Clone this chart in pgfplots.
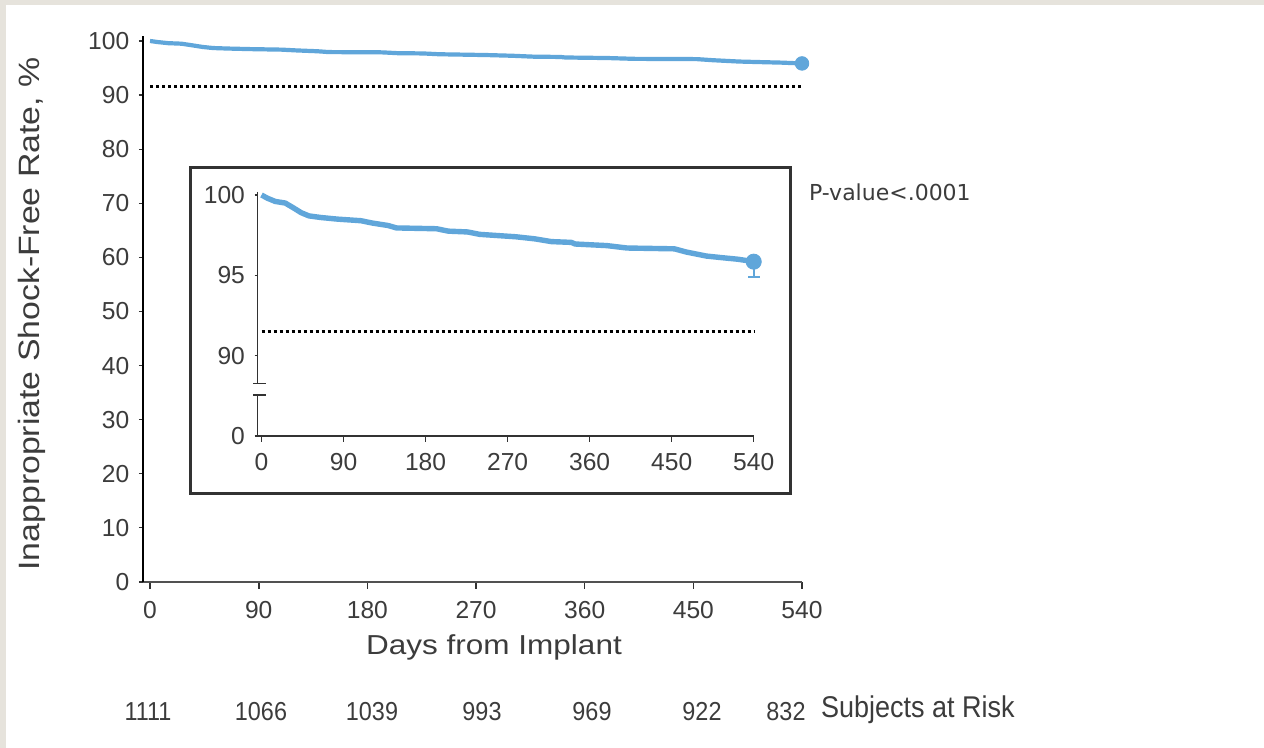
\documentclass[border=0pt]{standalone}
\usepackage{pgfplots}
\pgfplotsset{compat=1.18}
\usepackage{pgfplotstable}
\usepackage{fontspec}
\setmainfont[FakeStretch=1.15]{Liberation Sans}
\newfontfamily\tickfont{Liberation Sans}
\newfontfamily\riskfont[FakeStretch=0.9]{Liberation Sans}
\newfontfamily\pfont{DejaVu Sans}
\definecolor{curve}{RGB}{96,166,218}
\definecolor{beige}{RGB}{230,227,220}
\definecolor{txt}{RGB}{60,60,60}
\definecolor{axc}{RGB}{50,50,50}

\pgfplotstableread{
day val
0 100
6.5 99.8
15 99.6
26 99.5
35 99.2
43.5 98.9
52 98.7
65 98.6
83 98.5
109 98.4
122 98.25
139 98.1
148 97.95
192 97.9
205 97.75
226 97.7
239.5 97.55
279 97.4
300 97.27
318 97.1
340 97.05
344 96.95
379 96.85
401 96.7
453 96.65
466 96.45
488 96.2
505 96.1
523 96.0
540 95.85
}\km

\begin{document}
\begin{tikzpicture}[x=0.5pt,y=0.5pt]
\useasboundingbox (0,0) rectangle (1264,748);
\fill[beige] (0,0) rectangle (1264,748);
\fill[white] (6,0) rectangle (1264,743);

% main axis
\begin{axis}[
  at={(71.4pt,83pt)}, anchor=south west,
  scale only axis, width=329.6pt, height=273.2pt,
  xmin=-6, xmax=540, ymin=0, ymax=101,
  axis x line*=bottom, axis y line*=left,
  x axis line style={-, line width=1.4pt, color=axc!85},
  y axis line style={-, line width=0.8pt, color=black},
  xtick={0,90,180,270,360,450,540},
  ytick={0,10,20,30,40,50,60,70,80,90,100},
  tick align=outside,
  xtick style={/pgfplots/major tick length=3.5pt, line width=0.8pt, color=axc},
  ytick style={/pgfplots/major tick length=2pt, line width=0.6pt, color=axc},
  /pgf/number format/assume math mode=true,
  ticklabel style={font=\tickfont\fontsize{12.3}{14}\selectfont, text=txt},
  xticklabel style={yshift=-2pt},
  yticklabel style={xshift=1pt},
  clip=false,
]
\addplot[black, line width=1.5pt, dash pattern=on 1.5pt off 1.5pt] coordinates {(0,91.5) (540,91.5)};
\addplot[curve, line width=2.1pt, line join=round] table[x=day,y=val] {\km};
\addplot[curve, only marks, mark=*, mark size=3.4pt] coordinates {(540,95.85)};
\end{axis}

% inset box
\draw[line width=1.5pt, color=axc] (190,254) rectangle (790,580);

% inset axis
\begin{axis}[
  at={(128.75pt,156pt)}, anchor=south west,
  scale only axis, width=248.1pt, height=122.1pt,
  xmin=-4.4, xmax=540, ymin=85, ymax=100.2,
  axis x line*=bottom, axis y line*=left,
  x axis line style={-, line width=0.8pt, color=axc},
  y axis line style={draw=none},
  xtick={0,90,180,270,360,450,540},
  ytick={85,90,95,100}, yticklabels={0,90,95,100},
  tick align=outside,
  xtick style={/pgfplots/major tick length=3pt, line width=0.6pt, color=axc},
  ytick style={/pgfplots/major tick length=1.5pt, line width=0.6pt, color=axc},
  /pgf/number format/assume math mode=true,
  ticklabel style={font=\tickfont\fontsize{12.3}{14}\selectfont, text=txt},
  xticklabel style={yshift=-1pt},
  yticklabel style={xshift=1.5pt},
  clip=false,
]
\draw[line width=0.6pt, color=axc] (axis cs:-4.4,100.2) -- (axis cs:-4.4,88.25);
\draw[line width=0.6pt, color=axc] (axis cs:-4.4,87.55) -- (axis cs:-4.4,85);
\draw[line width=0.6pt, color=axc] (axis cs:-8.8,88.25) -- (axis cs:4.4,88.25);
\draw[line width=0.6pt, color=axc] (axis cs:-8.8,87.55) -- (axis cs:4.4,87.55);
\addplot[black, line width=1.5pt, dash pattern=on 1.5pt off 1.5pt] coordinates {(0,91.5) (540,91.5)};
\addplot[curve, line width=2.7pt, line join=round] table[x=day,y=val] {\km};
\addplot[curve, only marks, mark=*, mark size=3.8pt,
  error bars/.cd, y dir=minus, y explicit,
  error bar style={curve, line width=0.8pt},
  error mark options={rotate=90, mark size=3pt, line width=0.8pt, curve}]
  coordinates {(540,95.85) -= (0,0.95)};
\end{axis}

% texts
\node[rotate=90, text=txt, font=\fontsize{14.7}{17}\selectfont] at (32,434) {Inappropriate Shock-Free Rate, \%};
\node[text=txt, font=\fontsize{13.7}{16}\selectfont] at (494,101) {Days from Implant};
\begin{scope}[every node/.style={text=txt, font=\riskfont\fontsize{13}{15}\selectfont}]
\node at (148,36) {1111};
\node at (261,36) {1066};
\node at (372,36) {1039};
\node at (482,36) {993};
\node at (592,36) {969};
\node at (702,36) {922};
\node at (786,36) {832};
\node[anchor=west, font=\riskfont\fontsize{15}{17}\selectfont] at (814,38) {Subjects at Risk};
\end{scope}
\node[anchor=west, text=txt, font=\pfont\fontsize{11}{13}\selectfont] at (802,556) {P-value<.0001};
\end{tikzpicture}
\end{document}
